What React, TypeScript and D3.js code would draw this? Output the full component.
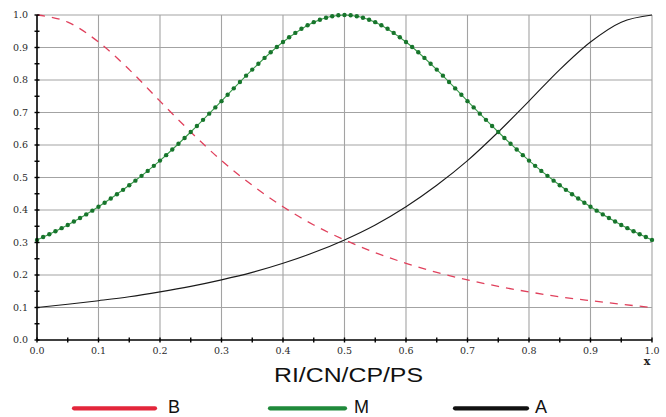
import React, { useEffect, useRef } from "react";
import * as d3 from "d3";

const xs = [0, 0.05, 0.1, 0.15, 0.2, 0.25, 0.3, 0.35, 0.4, 0.45, 0.5, 0.55, 0.6, 0.65, 0.7, 0.75, 0.8, 0.85, 0.9, 0.95, 1.0];
const seriesB = [1.0, 0.978, 0.917, 0.832, 0.735, 0.64, 0.552, 0.476, 0.41, 0.354, 0.308, 0.269, 0.236, 0.208, 0.185, 0.165, 0.148, 0.133, 0.121, 0.11, 0.1];
const seriesM = [0.308, 0.354, 0.41, 0.476, 0.552, 0.64, 0.735, 0.832, 0.917, 0.978, 1.0, 0.978, 0.917, 0.832, 0.735, 0.64, 0.552, 0.476, 0.41, 0.354, 0.308];
const seriesA = [0.1, 0.11, 0.121, 0.133, 0.148, 0.165, 0.185, 0.208, 0.236, 0.269, 0.308, 0.354, 0.41, 0.476, 0.552, 0.64, 0.735, 0.832, 0.917, 0.978, 1.0];
const tickLabels = ["0.0", "0.1", "0.2", "0.3", "0.4", "0.5", "0.6", "0.7", "0.8", "0.9", "1.0"];
const legendNames = ["B", "M", "A"];
const axisTitle = "RI/CN/CP/PS";
const varName = "x";

const W = 666, H = 417;
const X0 = 37, X1 = 652, Y0 = 340, Y1 = 15;

export default function App() {
  const ref = useRef<SVGSVGElement>(null);
  useEffect(() => {
    const svg = d3.select(ref.current);
    svg.selectAll("*").remove();
    const x = d3.scaleLinear().domain([0, 1]).range([X0, X1]);
    const y = d3.scaleLinear().domain([0, 1]).range([Y0, Y1]);
    const majors = d3.range(0, 11).map((i) => i / 10);
    const minors = d3.range(0, 21).map((i) => i / 20);

    svg.append("rect").attr("width", W).attr("height", H).attr("fill", "#fff");

    const g = svg.append("g");
    // grid
    g.selectAll(".gv").data(majors.slice(1)).join("line")
      .attr("x1", (d) => x(d)).attr("x2", (d) => x(d)).attr("y1", Y0).attr("y2", Y1)
      .attr("stroke", "#a3a3a3").attr("stroke-width", 1.1);
    g.selectAll(".gh").data(majors.slice(1)).join("line")
      .attr("y1", (d) => y(d)).attr("y2", (d) => y(d)).attr("x1", X0).attr("x2", X1)
      .attr("stroke", "#a3a3a3").attr("stroke-width", 1.1);

    // curves
    const line = d3.line<number>().x((_, i) => x(xs[i])).y((d) => y(d)).curve(d3.curveMonotoneX);
    g.append("path").attr("d", line(seriesA)).attr("fill", "none").attr("stroke", "#1a1a1a").attr("stroke-width", 1.1);
    g.append("path").attr("d", line(seriesB)).attr("fill", "none").attr("stroke", "#e0405c").attr("stroke-width", 1.3).attr("stroke-dasharray", "8,7");
    const mPath = g.append("path").attr("d", line(seriesM)).attr("fill", "none").attr("stroke", "#3a9a4a").attr("stroke-width", 1.1);

    // dots on M every 0.01 in x
    const node = mPath.node() as SVGPathElement;
    const total = node.getTotalLength();
    const dots: [number, number][] = [];
    for (let k = 0; k <= 100; k++) {
      const tx = x(k / 100);
      let lo = 0, hi = total;
      for (let it = 0; it < 40; it++) {
        const mid = (lo + hi) / 2;
        if (node.getPointAtLength(mid).x < tx) lo = mid; else hi = mid;
      }
      const p = node.getPointAtLength((lo + hi) / 2);
      dots.push([p.x, p.y]);
    }
    g.selectAll(".dot").data(dots).join("circle")
      .attr("cx", (d) => d[0]).attr("cy", (d) => d[1]).attr("r", 2.2)
      .attr("fill", "#17752c");

    // axes
    g.append("line").attr("x1", X0).attr("x2", X0).attr("y1", Y0).attr("y2", Y1).attr("stroke", "#000").attr("stroke-width", 1.6);
    g.append("line").attr("x1", X0).attr("x2", X1).attr("y1", Y0).attr("y2", Y0).attr("stroke", "#000").attr("stroke-width", 1.6);
    g.selectAll(".tx").data(minors).join("line")
      .attr("x1", (d) => x(d)).attr("x2", (d) => x(d)).attr("y1", Y0 - 2.5).attr("y2", Y0 + 2.5)
      .attr("stroke", "#000").attr("stroke-width", 1.4);
    g.selectAll(".ty").data(minors).join("line")
      .attr("y1", (d) => y(d)).attr("y2", (d) => y(d)).attr("x1", X0 - 2.5).attr("x2", X0 + 2.5)
      .attr("stroke", "#000").attr("stroke-width", 1.4);

    // tick labels
    g.selectAll(".lx").data(majors).join("text")
      .attr("x", (d) => x(d)).attr("y", 354).attr("text-anchor", "middle")
      .attr("font-family", "DejaVu Serif").attr("font-size", 9.5).attr("fill", "#2a2a2a")
      .text((_, i) => tickLabels[i]);
    g.selectAll(".ly").data(majors).join("text")
      .attr("x", 28).attr("y", (d) => y(d)).attr("dy", "0.36em").attr("text-anchor", "end")
      .attr("font-family", "DejaVu Serif").attr("font-size", 9.5).attr("fill", "#2a2a2a")
      .text((_, i) => tickLabels[i]);

    g.append("text").attr("x", 647).attr("y", 365).attr("text-anchor", "middle")
      .attr("font-family", "DejaVu Serif").attr("font-weight", "bold").attr("font-size", 11).attr("fill", "#222")
      .text(varName);

    g.append("text").attr("x", 274).attr("y", 381.5)
      .attr("font-family", "Liberation Sans").attr("font-size", 21).attr("fill", "#111")
      .attr("textLength", 149).attr("lengthAdjust", "spacingAndGlyphs")
      .text(axisTitle);

    // legend
    const legend = [
      { x1: 74, x2: 155, tx: 168, color: "#e3263b" },
      { x1: 270, x2: 345, tx: 354, color: "#1f8a3b" },
      { x1: 455, x2: 527, tx: 535, color: "#111" },
    ];
    legend.forEach((l, i) => {
      g.append("line").attr("x1", l.x1).attr("x2", l.x2).attr("y1", 408.3).attr("y2", 408.3)
        .attr("stroke", l.color).attr("stroke-width", 4.2).attr("stroke-linecap", "round");
      g.append("text").attr("x", l.tx).attr("y", 413).attr("font-family", "Liberation Sans")
        .attr("font-size", 18).attr("fill", "#111").text(legendNames[i]);
    });
  }, []);
  return (
    <svg ref={ref} width={W} height={H} style={{ position: "absolute", left: 0, top: 0, display: "block" }} />
  );
}
